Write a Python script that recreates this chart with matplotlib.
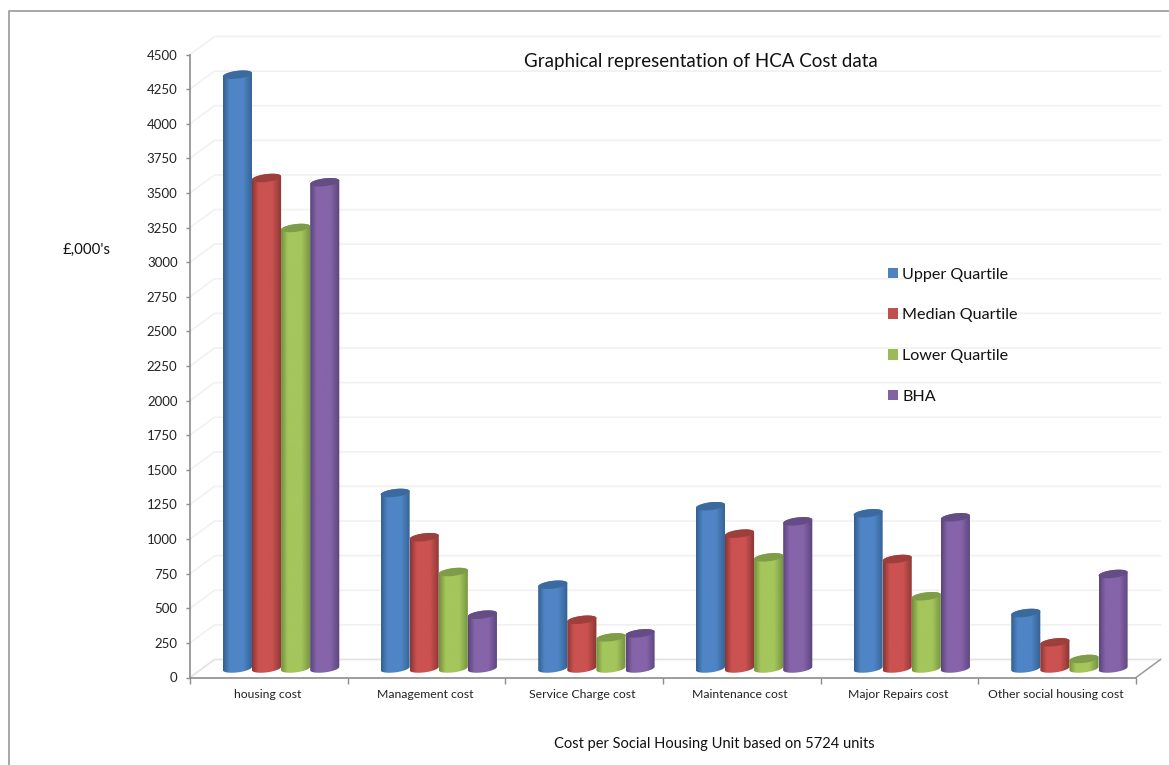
import numpy as np
import matplotlib
matplotlib.use("Agg")
import matplotlib.pyplot as plt
from matplotlib.lines import Line2D
from matplotlib.patches import Patch, PathPatch
from matplotlib.path import Path

plt.rcParams['font.family'] = ['Lato', 'DejaVu Sans']

categories = ["housing cost", "Management cost", "Service Charge cost",
              "Maintenance cost", "Major Repairs cost", "Other social housing cost"]
series_names = ["Upper Quartile", "Median Quartile", "Lower Quartile", "BHA"]

upper = [4289, 1268, 605, 1172, 1121, 401]
median = [3543, 948, 352, 974, 791, 189]
lower = [3182, 697, 225, 803, 522, 69]
bha = [3512, 389, 254, 1063, 1092, 683]
series_values = [upper, median, lower, bha]

y_ticks = np.arange(0, 4501, 250)

# body edge, body centre, top cap
colours = [("#326090", "#4f85c6", "#3a6a9e"),
           ("#893634", "#cb5250", "#9e3f3c"),
           ("#73913d", "#a4c65c", "#7f9c48"),
           ("#5a447c", "#8664a9", "#644c84")]
legend_colours = ["#4f81bd", "#c0504d", "#9bbb59", "#8064a2"]

W, H = 1169, 765
fig = plt.figure(figsize=(W / 100, H / 100), dpi=100, facecolor="white")
ax = fig.add_axes([190 / W, (H - 677.5) / H, 946 / W, 623 / H])

# size of one pixel in data units
px_x = 6 / 946
px_y = 4500 / 623
depth_x = 24.5 * px_x
depth_y = 18 * px_y

# oblique walls: side wall, back wall and floor
for v in y_ticks:
    col = "#e2e2e2" if v == 0 else "#f1f1f1"
    ax.plot([0, depth_x, 6 + depth_x], [v, v + depth_y, v + depth_y],
            color=col, lw=1.2, clip_on=False, zorder=1)
ax.plot([6, 6 + depth_x], [0, depth_y], color="#9a9a9a", lw=1.1, clip_on=False, zorder=1)


def cylinder_outline(cx, top, half_w):
    # tilted ellipses at both ends, joined along the sides
    b = 3.9 * px_y
    s = 1.7 * px_y
    t = np.linspace(0, 2 * np.pi, 61)
    ex = half_w * np.cos(t)
    ey = b * np.sin(t) + s * np.cos(t)
    base = depth_y / 2
    # lower half of the base, upper half of the top
    low = t[30:61]
    lx = cx + half_w * np.cos(low)
    ly = base + b * np.sin(low) + s * np.cos(low)
    high = t[0:31]
    hx = cx + half_w * np.cos(high)
    hy = top + base + b * np.sin(high) + s * np.cos(high)
    body = np.column_stack([np.r_[lx, hx], np.r_[ly, hy]])
    body = np.vstack([body, body[0]])
    cap = np.column_stack([cx + ex, top + base + ey])
    return body, cap


bar_w = 29.1 * px_x
group_mid = 0.5 + depth_x / 2
for i in range(len(categories)):
    for j, vals in enumerate(series_values):
        cx = i + group_mid + (j - 1.5) * bar_w
        edge, mid, cap_col = colours[j]
        body, cap = cylinder_outline(cx, vals[i], bar_w / 2)

        e = np.array(matplotlib.colors.to_rgb(edge))
        m = np.array(matplotlib.colors.to_rgb(mid))
        pos = np.linspace(0, 1, 64)
        mix = np.interp(pos, [0, 0.22, 0.68, 1], [0, 1, 1, 0])
        grad = e + mix[:, None] * (m - e)

        clip = PathPatch(Path(body), transform=ax.transData, fc="none", ec="none")
        ax.add_patch(clip)
        z = 3 + 0.1 * j
        im = ax.imshow(grad[None, :, :], extent=[cx - bar_w / 2, cx + bar_w / 2, -200, vals[i] + 300],
                       aspect="auto", interpolation="bilinear", zorder=z)
        im.set_clip_path(clip)
        ax.fill(cap[:, 0], cap[:, 1], color=cap_col, lw=0, zorder=z + 0.01)

ax.set_xlim(0, 6)
ax.set_ylim(0, 4500)

for side in ["top", "right"]:
    ax.spines[side].set_visible(False)
for side in ["left", "bottom"]:
    ax.spines[side].set_color("#8c8c8c")
    ax.spines[side].set_linewidth(1.2)
ax.patch.set_alpha(0)

ax.set_yticks(y_ticks)
ax.tick_params(axis="y", length=3, width=1, color="#8c8c8c", labelsize=9.5,
               labelcolor="#222222", pad=6)
ax.set_xticks(np.arange(7))
ax.set_xticklabels([])
ax.tick_params(axis="x", which="major", length=4, width=1, color="#8c8c8c")
ax.set_xticks(np.arange(6) + 0.49, minor=True)
ax.set_xticklabels(categories, minor=True, fontsize=8.8, color="#222222")
ax.tick_params(axis="x", which="minor", length=0, pad=8)

fig.text(700.5 / W, 1 - 61.5 / H, "Graphical representation of HCA Cost data", fontsize=13.5,
         ha="center", va="center", color="#111111")
fig.text(87 / W, 1 - 249.5 / H, "£,000's", fontsize=10.8, ha="center", va="center", color="#111111")
fig.text(714.5 / W, 1 - 744 / H, "Cost per Social Housing Unit based on 5724 units", fontsize=10.5,
         ha="center", va="center", color="#111111")

handles = [Patch(facecolor=c, label=n) for c, n in zip(legend_colours, series_names)]
fig.legend(handles=handles, loc="upper left", bbox_to_anchor=(888 / W, 1 - 267.5 / H),
           frameon=False, fontsize=11.6, labelspacing=1.66, handlelength=0.62,
           handleheight=0.62, handletextpad=0.25, borderaxespad=0, borderpad=0,
           labelcolor="#111111")

# outer frame, open at the right and the bottom
fig.add_artist(Line2D([9 / W, 9 / W, 1], [0, 1 - 11 / H, 1 - 11 / H], color="#8f8f8f", lw=1.1))

fig.savefig("out.png", dpi=100)
